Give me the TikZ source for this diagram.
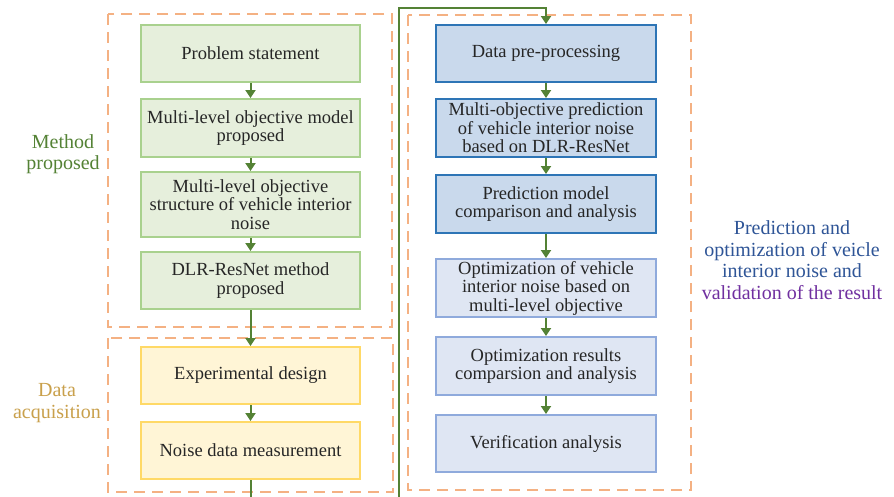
\documentclass[tikz,border=0pt]{standalone}
\usepackage{fontspec}
\setmainfont{Liberation Serif}
\usetikzlibrary{arrows.meta}
\definecolor{gfill}{HTML}{E6EFDC}
\definecolor{gdraw}{HTML}{A9D18E}
\definecolor{yfill}{HTML}{FFF5D6}
\definecolor{ydraw}{HTML}{FFD966}
\definecolor{bfill}{HTML}{C9D9EC}
\definecolor{bdraw}{HTML}{2E75B6}
\definecolor{lbfill}{HTML}{DFE6F3}
\definecolor{lbdraw}{HTML}{8FAADC}
\definecolor{arr}{HTML}{548235}
\definecolor{dash}{HTML}{F4B183}
\definecolor{lblgreen}{HTML}{548235}
\definecolor{lblgold}{HTML}{C9A04B}
\definecolor{lblblue}{HTML}{2F5597}
\definecolor{lblpurple}{HTML}{7030A0}
\tikzset{
  box/.style={draw, line width=2pt, minimum width=219pt, align=center,
    font=\fontsize{18.5}{18.5}\selectfont, text=black!85, inner sep=1pt},
  gbox/.style={box, fill=gfill, draw=gdraw},
  ybox/.style={box, fill=yfill, draw=ydraw},
  bbox/.style={box, fill=bfill, draw=bdraw},
  lbbox/.style={box, fill=lbfill, draw=lbdraw},
  conn/.style={draw=arr, line width=2pt, -{Triangle[width=10pt,length=8pt]}},
  group/.style={draw=dash, line width=2pt, dash pattern=on 11pt off 7pt},
  lbl/.style={align=center, font=\fontsize{20}{21.5}\selectfont},
}
\begin{document}
\begin{tikzpicture}[x=1pt,y=-1pt]
\useasboundingbox (0,0) rectangle (894,496);
\clip (0,0) rectangle (894,496);
\fill[white] (0,0) rectangle (894,496);
% groups
\draw[group] (108,14) rectangle (392,327);
\draw[group] (108,338) rectangle (393,492);
\draw[group] (408,15) rectangle (691,490);
% left boxes
\node[gbox, minimum height=57pt] (g1) at (250.5,53.5) {Problem statement};
\node[gbox, minimum height=58pt] (g2) at (250.5,128) {Multi-level objective model\\proposed};
\node[gbox, minimum height=65pt] (g3) at (250.5,204.5) {Multi-level objective\\structure of vehicle interior\\noise};
\node[gbox, minimum height=57pt] (g4) at (250.5,280.5) {DLR-ResNet method\\proposed};
\node[ybox, minimum height=57pt] (y1) at (250.5,375.5) {Experimental design};
\node[ybox, minimum height=57pt] (y2) at (250.5,450.5) {Noise data measurement};
% right boxes
\node[bbox, minimum width=220pt, minimum height=57pt] (b1) at (546,53.5) {Data pre-processing};
\node[bbox, minimum width=220pt, minimum height=58pt] (b2) at (546,128) {Multi-objective prediction\\of vehicle interior noise\\based on DLR-ResNet};
\node[bbox, minimum width=220pt, minimum height=58pt] (b3) at (546,204) {Prediction model\\comparison and analysis};
\node[lbbox, minimum width=220pt, minimum height=58pt] (b4) at (546,288) {Optimization of vehicle\\interior noise based on\\multi-level objective};
\node[lbbox, minimum width=220pt, minimum height=58pt] (b5) at (546,366) {Optimization results\\comparsion and analysis};
\node[lbbox, minimum width=220pt, minimum height=57pt] (b6) at (546,443.5) {Verification analysis};
% labels
\node[lbl, text=lblgreen] (l1) at (63,154) {Method\\proposed};
\node[lbl, text=lblgold] (l2) at (57,403) {Data\\acquisition};
\node[lbl, align=center] (l3) at (792,260) {\textcolor{lblblue}{Prediction and}\\\textcolor{lblblue}{optimization of veicle}\\\textcolor{lblblue}{interior noise and}\\\textcolor{lblpurple}{validation of the result}};
% connectors
\draw[conn] (g1) -- (g2);
\draw[conn] (g2) -- (g3);
\draw[conn] (g3) -- (g4);
\draw[conn] (g4) -- (y1);
\draw[conn] (y1) -- (y2);
\coordinate (c1) at (250.5,510);
\coordinate (c2) at (398.5,8);
\draw[conn] (y2.south) -- (c1) -| (c2) -| (b1.north);
\draw[conn] (b1) -- (b2);
\draw[conn] (b2) -- (b3);
\draw[conn] (b3) -- (b4);
\draw[conn] (b4) -- (b5);
\draw[conn] (b5) -- (b6);
\end{tikzpicture}
\end{document}
